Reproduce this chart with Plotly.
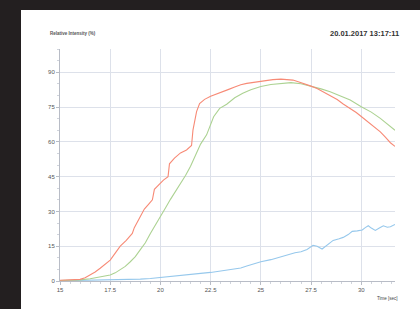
import plotly.graph_objects as go

red_x = [15.0, 15.5, 16.0, 16.25, 16.5, 16.75, 17.0, 17.25, 17.5, 17.75, 18.0, 18.3, 18.6, 18.7, 18.85,
         19.05, 19.2, 19.45, 19.6, 19.7, 19.95, 20.15, 20.38, 20.45, 20.7, 21.0, 21.3, 21.55, 21.62,
         21.72, 21.8, 21.95, 22.2, 22.5, 22.8, 23.1, 23.4, 23.7, 24.0, 24.3, 24.6, 25.0, 25.3, 25.6,
         26.0, 26.3, 26.6, 26.9, 27.2, 27.5, 27.8, 28.1, 28.45, 28.8, 29.1, 29.45, 29.75, 30.0, 30.3,
         30.6, 30.95, 31.2, 31.45, 31.68]
red_y = [0.3, 0.4, 0.7, 1.4, 2.6, 3.9, 5.5, 7.2, 9.0, 12.0, 15.0, 17.5, 20.5, 23.0, 25.5,
         29.0, 31.0, 33.5, 35.0, 39.5, 42.0, 43.5, 45.0, 50.5, 53.0, 55.2, 56.5, 58.4, 65.0,
         70.0, 73.0, 76.5, 78.3, 79.6, 80.7, 81.6, 82.6, 83.6, 84.6, 85.2, 85.6, 86.3, 86.5, 86.8,
         87.0, 86.9, 86.6, 85.8, 85.0, 84.0, 83.0, 81.6, 80.2, 78.2, 76.3, 74.4, 72.6, 70.9, 68.8,
         66.8, 64.3, 62.0, 59.6, 58.0]

green_x = [15.0, 15.5, 16.0, 16.5, 17.0, 17.5, 17.75, 18.0, 18.25, 18.5, 18.75, 19.0, 19.25, 19.5,
           19.75, 20.0, 20.25, 20.5, 20.75, 21.0, 21.25, 21.5, 21.75, 22.0, 22.3, 22.45, 22.65,
           22.95, 23.3, 23.7, 24.1, 24.5, 25.0, 25.5, 26.0, 26.5, 27.0, 27.5, 28.0, 28.45, 29.0,
           29.45, 30.0, 30.5, 30.95, 31.3, 31.68]
green_y = [0.2, 0.3, 0.5, 1.0, 1.8, 2.6, 3.5, 4.8, 6.3, 8.3, 10.5, 13.5, 16.5, 20.5,
           24.0, 27.8, 31.5, 35.2, 38.5, 42.0, 45.5, 49.5, 54.0, 59.0, 63.0, 66.5, 70.8,
           74.4, 76.2, 79.0, 80.9, 82.4, 83.8, 84.7, 85.2, 85.5, 85.0, 84.0, 82.8, 81.6, 79.8,
           78.0, 75.1, 72.8, 70.1, 67.5, 65.0]

blue_x = [15.0, 16.0, 17.0, 18.0, 18.5, 19.0, 19.5, 20.0, 20.5, 21.0, 21.5, 22.0, 22.5, 23.0, 23.5,
          24.0, 24.3, 24.6, 25.0, 25.5, 26.0, 26.4, 26.7, 27.0, 27.3, 27.6, 27.8, 28.05, 28.3, 28.6,
          28.9, 29.1, 29.35, 29.55, 29.8, 30.05, 30.2, 30.35, 30.5, 30.7, 30.9, 31.1, 31.3, 31.45, 31.68]
blue_y = [0.1, 0.2, 0.3, 0.4, 0.5, 0.8, 1.1, 1.6, 2.0, 2.5, 2.9, 3.3, 3.7, 4.3, 4.9,
          5.6, 6.5, 7.3, 8.3, 9.2, 10.4, 11.5, 12.2, 12.6, 13.6, 15.4, 15.0, 13.8, 15.5, 17.5,
          18.2, 18.8, 20.0, 21.4, 21.6, 22.0, 23.0, 23.8, 22.8, 21.8, 22.8, 23.8, 23.2, 23.4, 24.4]

y_ticks = [0, 15, 30, 45, 60, 75, 90]
x_ticks = [15, 17.5, 20, 22.5, 25, 27.5, 30]
x_tick_labels = ["15", "17.5", "20", "22.5", "25", "27.5", "30"]

title_text = "Relative Intensity (%)"
date_text = "20.01.2017 13:17:11"
xlabel_text = "Time [sec]"

fig = go.Figure()
fig.add_trace(go.Scatter(x=blue_x, y=blue_y, mode="lines", line=dict(color="#96c8ec", width=1.1)))
fig.add_trace(go.Scatter(x=green_x, y=green_y, mode="lines", line=dict(color="#acd292", width=1.1)))
fig.add_trace(go.Scatter(x=red_x, y=red_y, mode="lines", line=dict(color="#f78a76", width=1.1)))

L, R, T, B = 60, 25, 49, 28
W, H = 420, 309
pw, ph = W - L - R, H - T - B

def px(xp):
    return (xp - L) / pw

def py(yp):
    return (H - B - yp) / ph

fig.add_shape(type="rect", xref="paper", yref="paper",
              x0=px(21), x1=px(422), y0=py(311), y1=py(10),
              fillcolor="white", line=dict(width=0), layer="below")

tickfont = dict(family="Liberation Sans, Arial, sans-serif", size=6, color="#555555")
fig.update_layout(
    width=W, height=H,
    margin=dict(l=L, r=R, t=T, b=B),
    paper_bgcolor="#231f20",
    plot_bgcolor="rgba(0,0,0,0)",
    showlegend=False,
    xaxis=dict(range=[15, 31.68], tickmode="array", tickvals=x_ticks, ticktext=x_tick_labels,
               showgrid=True, gridcolor="#dde1ea", gridwidth=1, zeroline=False,
               showline=True, linecolor="#b8bcc6", linewidth=1,
               ticks="outside", ticklen=3, tickcolor="#b8bcc6", tickfont=tickfont,
               minor=dict(dtick=0.5, tick0=15, ticks="outside", ticklen=2, tickcolor="#d0d4dc", showgrid=False)),
    yaxis=dict(range=[0, 100], tickmode="array", tickvals=y_ticks,
               showgrid=True, gridcolor="#dde1ea", gridwidth=1, zeroline=False,
               showline=True, linecolor="#b8bcc6", linewidth=1,
               ticks="outside", ticklen=3, tickcolor="#b8bcc6", tickfont=tickfont,
               minor=dict(dtick=5, tick0=0, ticks="outside", ticklen=2, tickcolor="#d0d4dc", showgrid=False)),
    annotations=[
        dict(text="<b>" + title_text + "</b>", xref="paper", yref="paper", x=px(48), y=py(34),
             xanchor="left", yanchor="middle", showarrow=False,
             font=dict(family="Liberation Sans, Arial, sans-serif", size=4.5, color="#555555")),
        dict(text="<b>" + date_text + "</b>", xref="paper", yref="paper", x=px(401), y=py(34),
             xanchor="right", yanchor="middle", showarrow=False,
             font=dict(family="Liberation Sans, Arial, sans-serif", size=7.5, color="#333333")),
        dict(text=xlabel_text, xref="paper", yref="paper", x=px(400), y=py(298),
             xanchor="right", yanchor="middle", showarrow=False,
             font=dict(family="Liberation Sans, Arial, sans-serif", size=4.5, color="#444444")),
    ],
)

fig.write_html(
    "out.html",
    config={"displayModeBar": False},
    post_script="document.body.style.margin='0';document.body.style.padding='0';"
                "document.body.style.overflow='hidden';document.body.style.background='#231f20';",
)
